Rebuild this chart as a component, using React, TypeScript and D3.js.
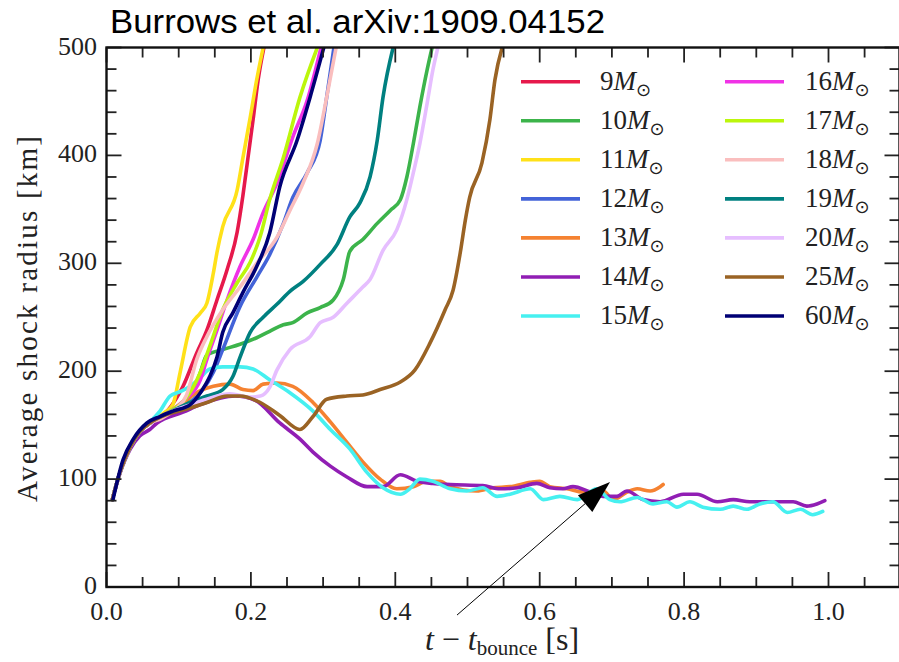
import React from 'react';
import * as d3 from 'd3';

// Average shock radius vs. time after bounce, one curve per progenitor mass.
const MASSES = ['9', '10', '11', '12', '13', '14', '15', '16', '17', '18', '19', '20', '25', '60'];
const COLORS = ['#e6194b', '#3cb44b', '#ffe119', '#4363d8', '#f58231', '#911eb4', '#46f0f0',
  '#f032e6', '#bcf60c', '#fabebe', '#008080', '#e6beff', '#9a6324', '#000075'];

type Pt = [number, number];

const M9: Pt[] = [[0.008, 81], [0.019, 107], [0.033, 130], [0.046, 144], [0.060, 152], [0.084, 163], [0.106, 186],
  [0.125, 217], [0.139, 238], [0.153, 266], [0.167, 294], [0.181, 329], [0.189, 363], [0.196, 398], [0.203, 433],
  [0.210, 470], [0.218, 500]];
const M10: Pt[] = [[0.008, 81], [0.019, 107], [0.033, 130], [0.046, 144], [0.060, 152], [0.088, 163], [0.116, 176],
  [0.130, 199], [0.139, 215], [0.161, 220], [0.185, 225], [0.208, 231], [0.226, 237], [0.245, 243], [0.258, 245],
  [0.278, 254], [0.296, 259], [0.314, 266], [0.328, 285], [0.337, 311], [0.355, 322], [0.375, 337], [0.393, 349],
  [0.407, 359], [0.416, 380], [0.425, 411], [0.434, 445], [0.444, 479], [0.451, 500]];
const M11: Pt[] = [[0.008, 81], [0.019, 107], [0.033, 130], [0.046, 144], [0.060, 152], [0.081, 162], [0.092, 169],
  [0.102, 199], [0.116, 241], [0.130, 254], [0.139, 263], [0.148, 291], [0.153, 310], [0.161, 334], [0.181, 368],
  [0.189, 398], [0.199, 435], [0.208, 470], [0.217, 500]];
const M12: Pt[] = [[0.008, 81], [0.019, 107], [0.033, 130], [0.046, 144], [0.060, 152], [0.088, 161], [0.116, 171],
  [0.148, 199], [0.161, 220], [0.185, 260], [0.208, 287], [0.226, 308], [0.245, 337], [0.258, 361], [0.278, 384],
  [0.296, 414], [0.305, 454], [0.315, 500]];
const M13: Pt[] = [[0.008, 81], [0.019, 107], [0.033, 130], [0.046, 144], [0.060, 152], [0.081, 160], [0.102, 169],
  [0.130, 182], [0.148, 186], [0.171, 188], [0.189, 183], [0.203, 182], [0.217, 188], [0.236, 189], [0.258, 186],
  [0.286, 171], [0.310, 153], [0.333, 134], [0.355, 116], [0.379, 100], [0.402, 91], [0.425, 93], [0.444, 98],
  [0.462, 98], [0.476, 93], [0.513, 89], [0.535, 92], [0.559, 93], [0.587, 97], [0.600, 98], [0.614, 93],
  [0.638, 91], [0.660, 88], [0.688, 89], [0.702, 81], [0.721, 88], [0.735, 91], [0.753, 89], [0.767, 93], [0.771, 95]];
const M14: Pt[] = [[0.008, 81], [0.019, 106], [0.033, 128], [0.046, 140], [0.060, 146], [0.070, 152], [0.106, 162],
  [0.130, 169], [0.157, 175], [0.178, 177], [0.206, 173], [0.240, 152], [0.268, 137], [0.286, 125], [0.310, 112],
  [0.333, 102], [0.361, 93], [0.383, 93], [0.407, 104], [0.430, 98], [0.452, 96], [0.476, 95], [0.521, 94],
  [0.545, 91], [0.569, 92], [0.596, 96], [0.614, 92], [0.632, 91], [0.646, 93], [0.670, 88], [0.688, 84],
  [0.707, 84], [0.721, 89], [0.743, 81], [0.767, 79], [0.799, 86], [0.818, 86], [0.846, 79], [0.868, 81],
  [0.891, 79], [0.923, 79], [0.951, 79], [0.970, 75], [0.984, 77], [0.995, 80]];
const M15: Pt[] = [[0.008, 81], [0.019, 107], [0.033, 130], [0.046, 144], [0.060, 153], [0.074, 163], [0.088, 177],
  [0.102, 181], [0.116, 186], [0.130, 194], [0.143, 202], [0.161, 204], [0.185, 204], [0.203, 202], [0.226, 192],
  [0.254, 180], [0.286, 163], [0.310, 146], [0.337, 128], [0.361, 106], [0.383, 92], [0.407, 86], [0.420, 91],
  [0.434, 100], [0.452, 98], [0.476, 91], [0.499, 89], [0.521, 92], [0.541, 84], [0.559, 86], [0.587, 91],
  [0.605, 81], [0.628, 84], [0.652, 81], [0.679, 91], [0.697, 81], [0.711, 79], [0.735, 83], [0.757, 77],
  [0.776, 79], [0.790, 74], [0.808, 79], [0.826, 74], [0.850, 72], [0.868, 75], [0.887, 72], [0.905, 77],
  [0.923, 79], [0.943, 69], [0.961, 72], [0.978, 67], [0.992, 70]];
const M16: Pt[] = [[0.008, 81], [0.019, 107], [0.033, 130], [0.046, 144], [0.060, 152], [0.088, 163], [0.109, 174],
  [0.130, 192], [0.139, 211], [0.153, 238], [0.167, 266], [0.185, 297], [0.203, 322], [0.217, 347], [0.236, 374],
  [0.258, 417], [0.278, 451], [0.297, 500]];
const M17: Pt[] = [[0.008, 81], [0.019, 107], [0.033, 130], [0.046, 144], [0.060, 152], [0.088, 163], [0.109, 174],
  [0.130, 199], [0.143, 223], [0.161, 257], [0.181, 282], [0.199, 301], [0.213, 325], [0.226, 359], [0.245, 398],
  [0.268, 454], [0.292, 500]];
const M18: Pt[] = [[0.008, 81], [0.019, 107], [0.033, 130], [0.051, 148], [0.078, 157], [0.098, 166], [0.111, 178],
  [0.125, 211], [0.139, 232], [0.161, 257], [0.185, 278], [0.208, 300], [0.236, 324], [0.254, 349], [0.272, 374],
  [0.292, 411], [0.305, 454], [0.318, 500]];
const M19: Pt[] = [[0.008, 81], [0.019, 107], [0.033, 130], [0.046, 144], [0.060, 152], [0.088, 162], [0.116, 171],
  [0.139, 177], [0.161, 183], [0.175, 195], [0.185, 213], [0.199, 236], [0.217, 250], [0.236, 262], [0.254, 274],
  [0.272, 283], [0.296, 299], [0.319, 317], [0.337, 343], [0.351, 356], [0.365, 380], [0.375, 414], [0.383, 454],
  [0.397, 500]];
const M20: Pt[] = [[0.008, 81], [0.019, 107], [0.033, 130], [0.046, 144], [0.060, 152], [0.088, 162], [0.116, 169],
  [0.143, 175], [0.171, 179], [0.199, 176], [0.213, 177], [0.226, 185], [0.236, 201], [0.254, 220], [0.282, 232],
  [0.296, 245], [0.314, 250], [0.333, 263], [0.355, 278], [0.365, 285], [0.383, 312], [0.402, 331], [0.416, 359],
  [0.425, 384], [0.434, 411], [0.444, 448], [0.452, 479], [0.459, 500]];
const M25: Pt[] = [[0.008, 81], [0.019, 107], [0.033, 130], [0.046, 144], [0.060, 152], [0.084, 160], [0.111, 165],
  [0.139, 171], [0.167, 177], [0.185, 177], [0.213, 171], [0.240, 159], [0.268, 146], [0.286, 158], [0.305, 174],
  [0.333, 177], [0.355, 178], [0.379, 183], [0.407, 190], [0.427, 201], [0.448, 226], [0.469, 257], [0.480, 275],
  [0.490, 310], [0.497, 340], [0.503, 361], [0.520, 393], [0.531, 433], [0.538, 470], [0.548, 500]];
const M60: Pt[] = [[0.009, 81], [0.023, 118], [0.037, 137], [0.056, 152], [0.074, 158], [0.092, 163], [0.116, 169],
  [0.130, 180], [0.143, 195], [0.153, 213], [0.161, 236], [0.175, 254], [0.189, 273], [0.208, 297], [0.226, 328],
  [0.240, 371], [0.264, 414], [0.282, 454], [0.301, 500]];

const SERIES: Pt[][] = [M9, M10, M11, M12, M13, M14, M15, M16, M17, M18, M19, M20, M25, M60];

const X_MAJOR = [0, 0.2, 0.4, 0.6, 0.8, 1.0];
const X_MINOR = [0.05, 0.1, 0.15, 0.25, 0.3, 0.35, 0.45, 0.5, 0.55, 0.65, 0.7, 0.75, 0.85, 0.9, 0.95, 1.05];
const Y_MAJOR = [0, 100, 200, 300, 400, 500];
const Y_MINOR = [20, 40, 60, 80, 120, 140, 160, 180, 220, 240, 260, 280, 320, 340, 360, 380, 420, 440, 460, 480];

// Annotation arrow, in data units (tail sits below the axis)
const ARROW_FROM: Pt = [0.4855, -26];
const ARROW_TO: Pt = [0.6974, 97.3];

const TITLE = 'Burrows et al. arXiv:1909.04152';

const LEFT = 106.5, RIGHT = 899.5, TOP = 47.5, BOTTOM = 587;
const SERIF = '"Liberation Serif", "Times New Roman", serif';

export default function App() {
  const x = d3.scaleLinear().domain([0, (RIGHT - LEFT) / 722]).range([LEFT, RIGHT]);
  const y = d3.scaleLinear().domain([0, 500]).range([BOTTOM, TOP]);
  const line = d3.line<Pt>().x(d => x(d[0])).y(d => y(d[1])).curve(d3.curveMonotoneX);

  const MAJ = 15, MIN = 10;
  const tick = { stroke: '#222', strokeWidth: 1.8 };

  // arrow head geometry
  const ax0 = x(ARROW_FROM[0]), ay0 = y(ARROW_FROM[1]);
  const ax1 = x(ARROW_TO[0]), ay1 = y(ARROW_TO[1]);
  const len = Math.hypot(ax1 - ax0, ay1 - ay0);
  const ux = (ax1 - ax0) / len, uy = (ay1 - ay0) / len;
  const headL = 33, headW = 11;
  const bx = ax1 - ux * headL, by = ay1 - uy * headL;
  const head = `M${ax1},${ay1} L${bx - uy * headW},${by + ux * headW} L${bx + uy * headW},${by - ux * headW} Z`;

  return (
    <svg width={899} height={662} style={{ position: 'absolute', left: 0, top: 0, background: '#fff' }}>
      <defs>
        <clipPath id="plot-area">
          <rect x={LEFT} y={TOP} width={RIGHT - LEFT} height={BOTTOM - TOP} />
        </clipPath>
      </defs>
      <rect x={0} y={0} width={899} height={662} fill="#fff" />

      <text x={110} y={33} fontFamily='"Liberation Sans", Arial, sans-serif' fontSize={33} fill="#000"
        textLength={495} lengthAdjust="spacingAndGlyphs">{TITLE}</text>

      <g clipPath="url(#plot-area)">
        {SERIES.map((s, i) => (
          <path key={MASSES[i]} d={line(s) || ''} fill="none" stroke={COLORS[i]} strokeWidth={3.6}
            strokeLinejoin="round" strokeLinecap="round" />
        ))}
      </g>

      {/* legend */}
      {MASSES.map((m, i) => {
        const col = i < 7 ? 0 : 1;
        const row = i % 7;
        const ly = 81.7 + row * 39.05;
        const lx = col === 0 ? 521 : 725;
        const tx = col === 0 ? 600 : 805;
        return (
          <g key={'lg' + m}>
            <line x1={lx} x2={lx + 59} y1={ly} y2={ly} stroke={COLORS[i]} strokeWidth={3.6} />
            <text x={tx} y={ly + 8} fontFamily={SERIF} fontSize={27} fill="#222">
              {m}<tspan fontStyle="italic">M</tspan>
              <tspan fontSize={18} dy={6} fontFamily='"DejaVu Sans", sans-serif'>⊙</tspan>
            </text>
          </g>
        );
      })}

      {/* ticks */}
      {X_MAJOR.map(v => (
        <g key={'xM' + v}>
          <line x1={x(v)} x2={x(v)} y1={BOTTOM} y2={BOTTOM - MAJ} {...tick} />
          <line x1={x(v)} x2={x(v)} y1={TOP} y2={TOP + MAJ} {...tick} />
          <text x={x(v)} y={620} textAnchor="middle" fontFamily={SERIF} fontSize={26} fill="#222">{d3.format('.1f')(v)}</text>
        </g>
      ))}
      {X_MINOR.map(v => (
        <g key={'xm' + v}>
          <line x1={x(v)} x2={x(v)} y1={BOTTOM} y2={BOTTOM - MIN} {...tick} />
          <line x1={x(v)} x2={x(v)} y1={TOP} y2={TOP + MIN} {...tick} />
        </g>
      ))}
      {Y_MAJOR.map(v => (
        <g key={'yM' + v}>
          <line x1={LEFT} x2={LEFT + MAJ} y1={y(v)} y2={y(v)} {...tick} />
          <line x1={RIGHT} x2={RIGHT - MAJ} y1={y(v)} y2={y(v)} {...tick} />
          <text x={97} y={y(v) + 7} textAnchor="end" fontFamily={SERIF} fontSize={26} fill="#222">{v}</text>
        </g>
      ))}
      {Y_MINOR.map(v => (
        <g key={'ym' + v}>
          <line x1={LEFT} x2={LEFT + MIN} y1={y(v)} y2={y(v)} {...tick} />
          <line x1={RIGHT} x2={RIGHT - MIN} y1={y(v)} y2={y(v)} {...tick} />
        </g>
      ))}

      <rect x={LEFT} y={TOP} width={RIGHT - LEFT} height={BOTTOM - TOP} fill="none" stroke="#111" strokeWidth={2.4} />

      {/* annotation arrow */}
      <line x1={ax0} y1={ay0} x2={bx} y2={by} stroke="#000" strokeWidth={1} />
      <path d={head} fill="#000" />

      {/* axis labels */}
      <text transform={`translate(37,319) rotate(-90)`} textAnchor="middle" fontFamily={SERIF} fontSize={29}
        fill="#222" textLength={366} lengthAdjust="spacing">Average shock radius [km]</text>
      <text x={502} y={650} textAnchor="middle" fontFamily={SERIF} fontSize={32} fill="#222">
        <tspan fontStyle="italic">t</tspan>
        <tspan> − </tspan>
        <tspan fontStyle="italic">t</tspan>
        <tspan fontSize={21} dy={5}>bounce</tspan>
        <tspan dy={-5}> [s]</tspan>
      </text>
    </svg>
  );
}
